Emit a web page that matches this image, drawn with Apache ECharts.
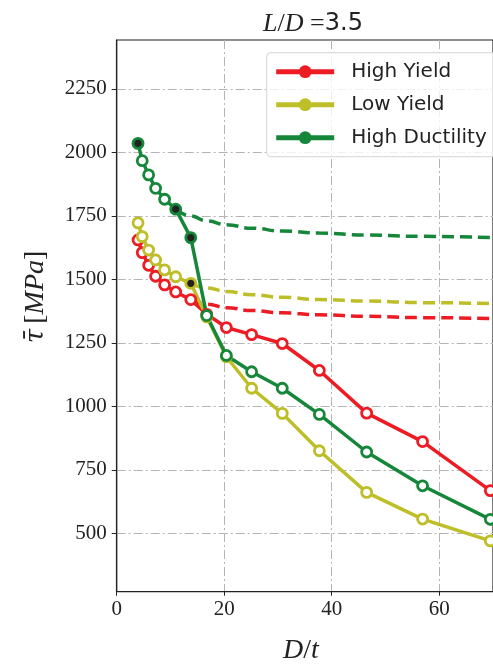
<!DOCTYPE html>
<html><head><meta charset="utf-8">
<script src="https://cdn.jsdelivr.net/npm/echarts@6/dist/echarts.min.js"></script>
<style>html,body{margin:0;padding:0;background:#fff}#c{width:493px;height:669px}</style>
</head><body><div id="c"></div>
<script>
// ---- data ----
const dOverT = [3.97, 4.75, 5.94, 7.24, 8.91, 10.98, 13.78, 16.75, 20.4, 25.1, 30.8, 37.7, 46.5, 56.9, 69.5];
const highYield     = [1655, 1605, 1555, 1512, 1478, 1450, 1420, 1362, 1310, 1282, 1247, 1141, 973, 861, 668];
const lowYield      = [1722, 1668, 1615, 1576, 1537, 1510, 1484, 1352, 1195, 1071, 972, 825, 661, 556, 470];
const highDuctility = [2035, 1967, 1911, 1858, 1815, 1776, 1664, 1357, 1200, 1136, 1071, 968, 820, 687, 555];

const hyDashX = [13.78, 16.75, 20.4, 25.1, 30.8, 37.7, 46.5, 56.9, 69.5];
const hyDash  = [1420, 1402, 1388, 1377, 1368, 1360, 1354, 1349, 1345];
const lyDashX = [13.78, 16.75, 20.4, 25.1, 30.8, 37.7, 46.5, 56.9, 69.5];
const lyDash  = [1484, 1466, 1452, 1439, 1429, 1420, 1414, 1408, 1404];
const hdDashX = [10.98, 13.78, 16.75, 20.4, 25.1, 30.8, 37.7, 46.5, 56.9, 69.5];
const hdDash  = [1776, 1749, 1730, 1715, 1701, 1690, 1682, 1674, 1669, 1664];

// indices drawn with a dark centre
const hyDark = [];
const lyDark = [6];
const hdDark = [0, 5, 6];

const seriesNames = ['High Yield', 'Low Yield', 'High Ductility'];
const xTicks = [0, 20, 40, 60];
const yTicks = [500, 750, 1000, 1250, 1500, 1750, 2000, 2250];

// ---- style ----
const colors = ['#ed1c24', '#bdbe28', '#16873a'];
const serif = '"Liberation Serif", "DejaVu Serif", serif';

function pts(xs, ys, dark) {
  return xs.map((x, i) => {
    const p = { value: [x, ys[i]] };
    if (dark && dark.indexOf(i) >= 0) p.itemStyle = { color: '#222' };
    return p;
  });
}
function solid(name, ys, dark, c) {
  return {
    name, type: 'line', data: pts(dOverT, ys, dark),
    symbol: 'circle', symbolSize: 10, showAllSymbol: true,
    lineStyle: { color: c, width: 3.5 },
    itemStyle: { color: '#fff', borderColor: c, borderWidth: 2.8 },
    z: 3
  };
}
function dashed(name, xs, ys, c) {
  return {
    name, type: 'line', data: pts(xs, ys),
    symbol: 'none', smooth: true, smoothMonotone: 'x',
    lineStyle: { color: c, width: 3.5, type: [12, 6] },
    z: 2
  };
}

const chart = echarts.init(document.getElementById('c'), null, { renderer: 'canvas' });
const gridLine = { show: true, lineStyle: { color: '#b4b4b4', width: 1, type: [9, 3, 2, 3] } };

chart.setOption({
  animation: false,
  backgroundColor: '#fff',
  grid: { left: 116.7, top: 40, width: 392.8, height: 551.7, show: true, borderColor: '#222', borderWidth: 1.2, containLabel: false },
  xAxis: {
    type: 'value', min: 0, max: 70,
    axisLine: { show: true, onZero: false, lineStyle: { color: '#222', width: 1.2 } },
    axisTick: { show: true, inside: false, length: 4, lineStyle: { color: '#222' }, customValues: xTicks },
    axisLabel: { margin: 7, fontFamily: serif, fontSize: 21, color: '#222', customValues: xTicks, formatter: v => String(v) },
    splitLine: gridLine
  },
  yAxis: {
    type: 'value', min: 270, max: 2442,
    axisLine: { show: true, onZero: false, lineStyle: { color: '#222', width: 1.2 } },
    axisTick: { show: true, inside: false, length: 5, lineStyle: { color: '#222' }, customValues: yTicks },
    axisLabel: { margin: 10, fontFamily: serif, fontSize: 21, color: '#222', customValues: yTicks, formatter: v => String(v) },
    splitLine: gridLine
  },
  legend: {
    orient: 'vertical', left: 266.7, top: 52.7,
    itemWidth: 58, itemHeight: 16, itemGap: 13,
    padding: [9, 12, 9, 7],
    backgroundColor: 'rgba(255,255,255,0.8)', borderColor: '#d4d4d4', borderWidth: 1, borderRadius: 4,
    textStyle: { fontFamily: '"DejaVu Sans", sans-serif', fontSize: 20, color: '#222', lineHeight: 20, padding: [0, 0, 0, 12] },
    data: seriesNames.map((n, i) => ({ name: n, itemStyle: { color: colors[i], borderWidth: 0 }, lineStyle: { color: colors[i], width: 5, type: 'solid' } }))
  },
  series: [
    dashed('hy-fit', hyDashX, hyDash, colors[0]),
    solid(seriesNames[0], highYield, hyDark, colors[0]),
    dashed('ly-fit', lyDashX, lyDash, colors[1]),
    solid(seriesNames[1], lowYield, lyDark, colors[1]),
    dashed('hd-fit', hdDashX, hdDash, colors[2]),
    solid(seriesNames[2], highDuctility, hdDark, colors[2])
  ],
  graphic: [
    { type: 'text', x: 313, y: 24,
      style: { text: '{i|L}{u|/}{i|D}{u| =}{s|3.5}', align: 'center', verticalAlign: 'middle',
        rich: { i: { fontFamily: serif, fontStyle: 'italic', fontSize: 26, fill: '#222' },
                u: { fontFamily: serif, fontSize: 26, fill: '#222' },
                s: { fontFamily: '"DejaVu Sans", sans-serif', fontSize: 24, fill: '#222' } } } },
    { type: 'text', x: 301, y: 651,
      style: { text: '{i|D}{u|/}{i|t}', align: 'center', verticalAlign: 'middle',
        rich: { i: { fontFamily: serif, fontStyle: 'italic', fontSize: 28, fill: '#222' },
                u: { fontFamily: serif, fontSize: 28, fill: '#222' } } } },
    { type: 'text', x: 36, y: 297, rotation: Math.PI / 2,
      style: { text: '{t|\u03C4\u0304\u2009}{u|[}{i|MPa}{u|]}', align: 'center', verticalAlign: 'middle',
        rich: { t: { fontFamily: '"DejaVu Serif", serif', fontStyle: 'italic', fontSize: 26, fill: '#222' },
                i: { fontFamily: serif, fontStyle: 'italic', fontSize: 28, fill: '#222' },
                u: { fontFamily: serif, fontSize: 28, fill: '#222' } } } }
  ]
});
</script></body></html>
